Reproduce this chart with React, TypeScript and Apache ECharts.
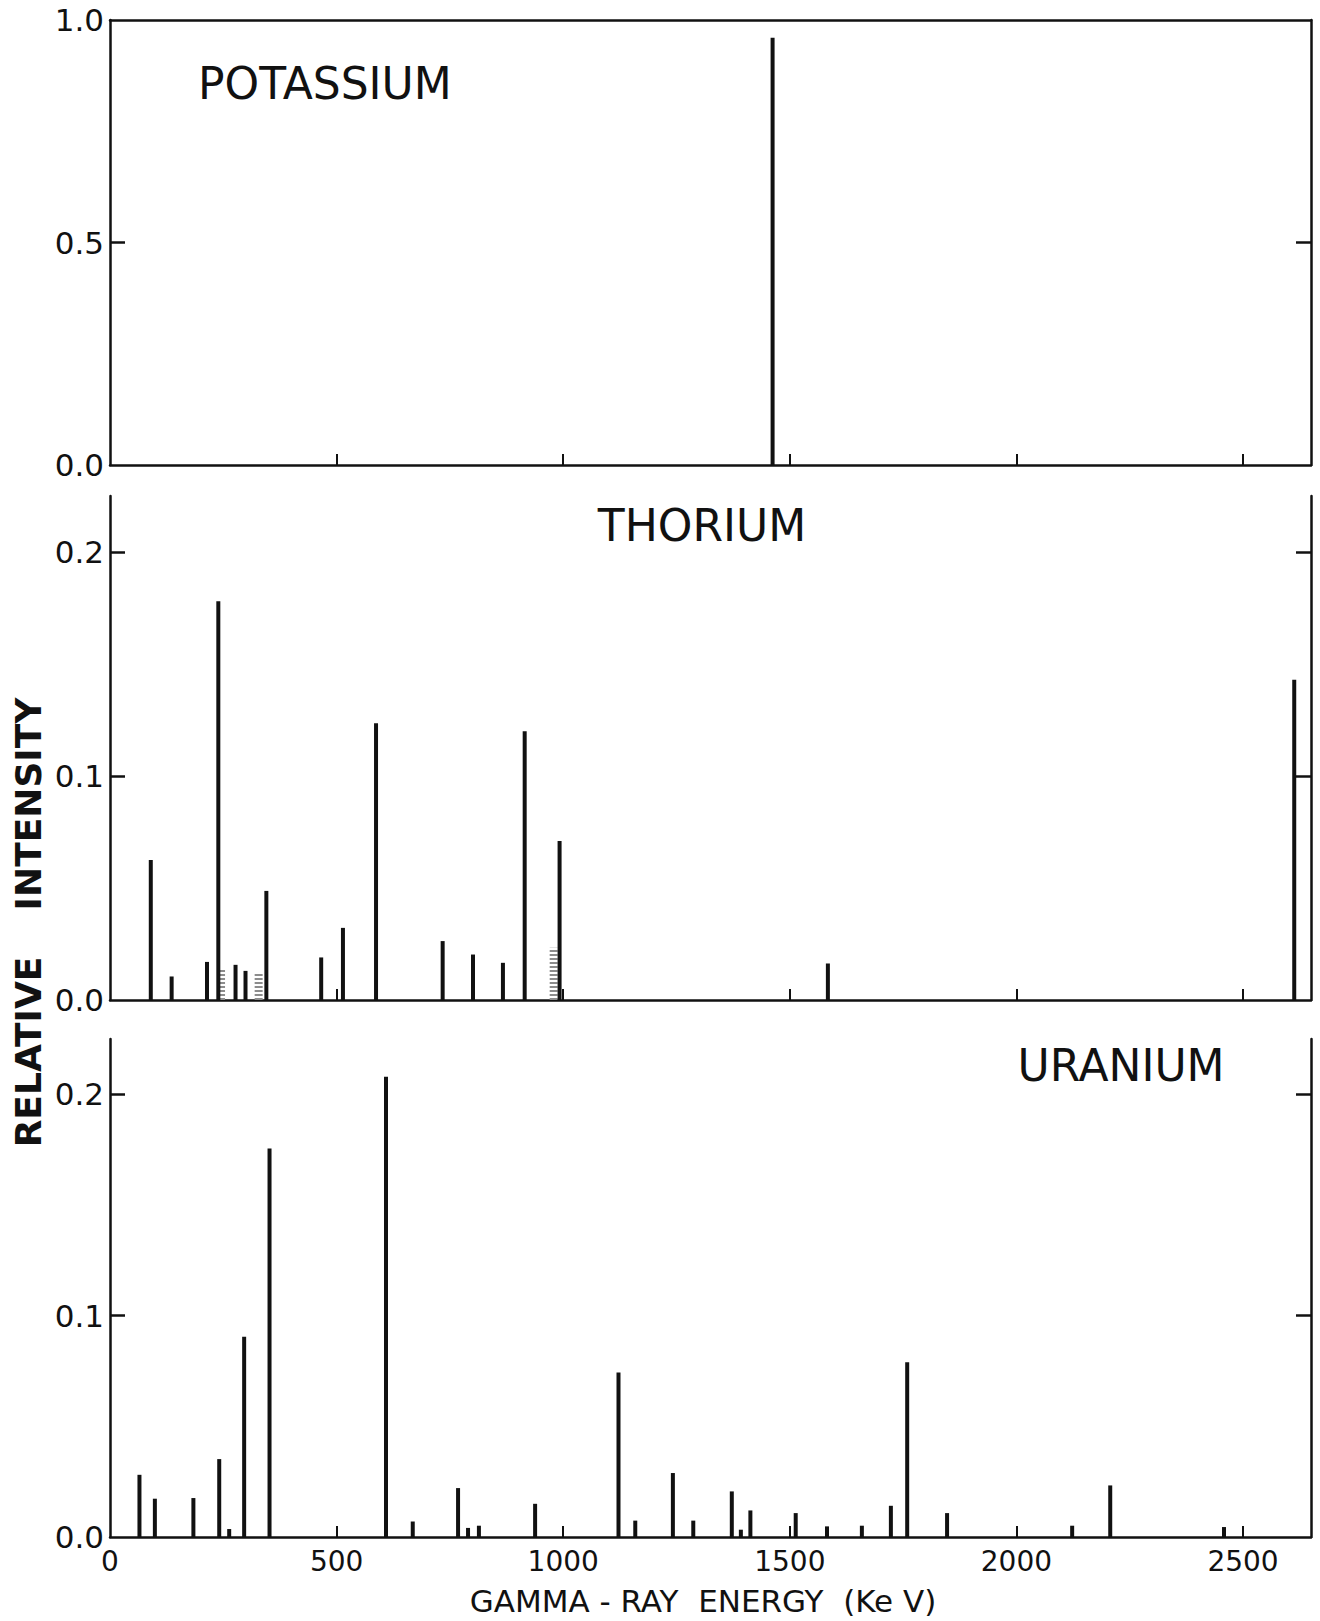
import React, { useEffect, useRef } from "react";
import * as echarts from "echarts";

// ---- Data ----
const energyTicks = [500, 1000, 1500, 2000, 2500];
const energyLabels = [0, 500, 1000, 1500, 2000, 2500];
const potassiumTicks = [0.5];
const potassiumLabels = [0, 0.5, 1.0];
const smallTicks = [0.1, 0.2];
const smallLabels = [0, 0.1, 0.2];

const potassiumEnergy = [1462];
const potassiumIntensity = [0.96];

const thoriumEnergy = [90, 136, 214, 239, 277, 299, 345, 466, 514, 587, 734, 801, 867, 915, 992, 1584, 2613];
const thoriumIntensity = [0.0625, 0.0105, 0.017, 0.178, 0.0157, 0.013, 0.0487, 0.019, 0.0322, 0.1235, 0.0263, 0.0203, 0.0166, 0.12, 0.071, 0.0163, 0.143];
// stippled (grey) clusters of unresolved lines
const thoriumClusterEnergy = [245, 328, 979];
const thoriumClusterIntensity = [0.014, 0.0125, 0.0233];

const uraniumEnergy = [65, 99, 184, 241, 263, 296, 352, 609, 668, 768, 790, 814, 938, 1122, 1159, 1242, 1287, 1372, 1392, 1413, 1513, 1582, 1659, 1723, 1759, 1847, 2123, 2207, 2458];
const uraniumIntensity = [0.0281, 0.0173, 0.0176, 0.0352, 0.0036, 0.0905, 0.1755, 0.208, 0.007, 0.0221, 0.0041, 0.0051, 0.015, 0.0743, 0.0074, 0.0289, 0.0074, 0.0206, 0.0033, 0.012, 0.0108, 0.0048, 0.0051, 0.0141, 0.079, 0.0108, 0.0051, 0.0233, 0.0045];

const INK = "#111111";
const FONT = "'DejaVu Sans', 'Noto Sans', sans-serif";

function pairs(xs: number[], ys: number[]) {
  return xs.map((x, i) => [x, ys[i]]);
}

function spikeSeries(name: string, idx: number, data: number[][], stroke: string, width: number, dash?: number[]) {
  return {
    name,
    type: "custom",
    xAxisIndex: idx,
    yAxisIndex: idx * 2,
    data,
    encode: { x: 0, y: 1 },
    renderItem: (params: any, api: any) => {
      const top = api.coord([api.value(0), api.value(1)]);
      const base = api.coord([api.value(0), 0]);
      return {
        type: "line",
        shape: { x1: base[0], y1: base[1], x2: top[0], y2: top[1] },
        style: { stroke, lineWidth: width, lineCap: "butt", lineDash: dash || null },
      };
    },
  };
}

export default function App() {
  const ref = useRef<HTMLDivElement>(null);

  useEffect(() => {
    if (!ref.current) return;
    const chart = echarts.init(ref.current, undefined, { renderer: "svg" });

    const grids = [
      { left: 110, top: 20, width: 1201, height: 445 },
      { left: 110, top: 496, width: 1201, height: 504 },
      { left: 110, top: 1039, width: 1201, height: 498 },
    ];

    const axisLine = { show: true, onZero: false, lineStyle: { color: INK, width: 2.5 } };

    const xAxes: any[] = grids.map((_, i) => ({
      type: "value",
      gridIndex: i,
      min: 0,
      max: 2650,
      position: "bottom",
      axisLine,
      splitLine: { show: false },
      axisTick: { show: true, inside: true, length: 11, customValues: energyTicks, lineStyle: { color: INK, width: 2 } },
      axisLabel: {
        show: i === 2,
        customValues: energyLabels,
        formatter: (v: number) => String(Math.round(v)),
        color: INK,
        fontFamily: FONT,
        fontSize: 28,
        margin: 10,
      },
    }));
    // top frame line of the potassium panel
    xAxes.push({
      type: "value",
      gridIndex: 0,
      min: 0,
      max: 2650,
      position: "top",
      axisLine,
      splitLine: { show: false },
      axisTick: { show: false },
      axisLabel: { show: false },
    });

    const yAxes: any[] = [];
    grids.forEach((_, i) => {
      const isK = i === 0;
      const common = {
        type: "value",
        gridIndex: i,
        min: 0,
        max: isK ? 1 : 0.225,
        axisLine,
        splitLine: { show: false },
        axisTick: { show: true, inside: true, length: 15, customValues: isK ? potassiumTicks : smallTicks, lineStyle: { color: INK, width: 2.5 } },
      };
      yAxes.push({
        ...common,
        position: "left",
        axisLabel: {
          show: true,
          customValues: isK ? potassiumLabels : smallLabels,
          formatter: (v: number) => v.toFixed(1),
          color: INK,
          fontFamily: FONT,
          fontSize: 31,
          margin: 6,
        },
      });
      yAxes.push({ ...common, position: "right", axisLabel: { show: false } });
    });

    const titleStyle = { font: `44px ${FONT}`, fill: INK };

    chart.setOption({
      animation: false,
      backgroundColor: "#ffffff",
      grid: grids,
      xAxis: xAxes,
      yAxis: yAxes,
      series: [
        spikeSeries("Potassium", 0, pairs(potassiumEnergy, potassiumIntensity), INK, 4),
        spikeSeries("Thorium clusters", 1, pairs(thoriumClusterEnergy, thoriumClusterIntensity), "#8c8c8c", 8, [2, 2]),
        spikeSeries("Thorium", 1, pairs(thoriumEnergy, thoriumIntensity), INK, 4),
        spikeSeries("Uranium", 2, pairs(uraniumEnergy, uraniumIntensity), INK, 4),
      ],
      graphic: [
        { type: "text", x: 198, y: 83, style: { ...titleStyle, text: "POTASSIUM", textAlign: "left", textVerticalAlign: "middle" } },
        { type: "text", x: 702, y: 525, style: { ...titleStyle, text: "THORIUM", textAlign: "center", textVerticalAlign: "middle" } },
        { type: "text", x: 1121, y: 1065, style: { ...titleStyle, text: "URANIUM", textAlign: "center", textVerticalAlign: "middle" } },
        {
          type: "text", x: 28, y: 1052, rotation: Math.PI / 2,
          style: { text: "RELATIVE", font: `bold 36px ${FONT}`, fill: INK, textAlign: "center", textVerticalAlign: "middle" },
        },
        {
          type: "text", x: 28, y: 804, rotation: Math.PI / 2,
          style: { text: "INTENSITY", font: `bold 36px ${FONT}`, fill: INK, textAlign: "center", textVerticalAlign: "middle" },
        },
        {
          type: "text", x: 703, y: 1601,
          style: { text: "GAMMA - RAY  ENERGY  (Ke V)", font: `31px ${FONT}`, fill: INK, textAlign: "center", textVerticalAlign: "middle" },
        },
      ],
    });

    return () => chart.dispose();
  }, []);

  return <div ref={ref} style={{ position: "absolute", left: 0, top: 0, width: 1320, height: 1621, background: "#fff" }} />;
}
